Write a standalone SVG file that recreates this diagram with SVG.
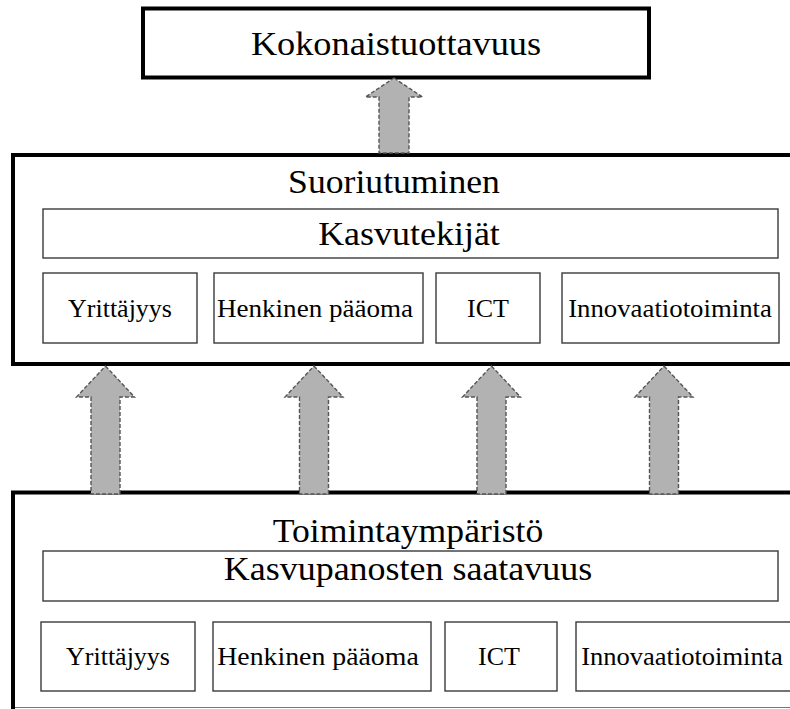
<svg xmlns="http://www.w3.org/2000/svg" width="790" height="709" viewBox="0 0 790 709">
<style>
.big{stroke:#000;stroke-width:4;fill:#fff}
.sub{stroke:#3a3a3a;stroke-width:1.4;fill:#fff}
text{fill:#000;text-anchor:middle}
.h{font-size:33px}
.s{font-size:26px}
.arr{fill:#b2b2b2;stroke:#555;stroke-width:1.4;stroke-dasharray:4 2}
</style>
<defs>
<path id="up" d="M0,0 L29,31 L14.5,31 L14.5,128 L-14.5,128 L-14.5,31 L-29,31 Z"/>
</defs>
<rect width="790" height="709" fill="#fff"/>
<g id="nodes" font-family="Liberation Serif, Times New Roman, serif">
<g id="kokonaistuottavuus">
<rect class="big" x="143" y="8.5" width="506" height="69" stroke-width="3.5"/>
<text class="h" transform="translate(396,55) scale(1.1,1)">Kokonaistuottavuus</text>
</g>
<g id="suoriutuminen">
<rect class="big" x="13" y="155" width="800" height="209"/>
<text class="h" transform="translate(394,193) scale(1.08,1)">Suoriutuminen</text>
</g>
<g id="kasvutekijat">
<rect class="sub" x="43" y="209" width="735" height="49"/>
<text class="h" transform="translate(409,245) scale(1.09,1)">Kasvutekijät</text>
</g>
<g id="s-yrittajyys">
<rect class="sub" x="43" y="273" width="154" height="70"/>
<text class="s" x="120" y="317">Yrittäjyys</text>
</g>
<g id="s-henkinen">
<rect class="sub" x="214" y="273" width="209" height="70"/>
<text class="s" transform="translate(315,317) scale(1.04,1)">Henkinen pääoma</text>
</g>
<g id="s-ict">
<rect class="sub" x="436" y="273" width="104" height="70"/>
<text class="s" x="488" y="317">ICT</text>
</g>
<g id="s-innovaatio">
<rect class="sub" x="562" y="273" width="217" height="70"/>
<text class="s" transform="translate(670,317) scale(1.03,1)">Innovaatiotoiminta</text>
</g>
<g id="toimintaymparisto">
<rect x="13" y="492.5" width="800" height="214.5" fill="#fff"/>
<path d="M13,709 L13,492.5 L790,492.5" fill="none" stroke="#000" stroke-width="4"/>
<path d="M15,707.5 L790,707.5" fill="none" stroke="#777" stroke-width="1.2"/>
<text class="h" transform="translate(408,542) scale(1.08,1)">Toimintaympäristö</text>
</g>
<g id="kasvupanosten">
<rect class="sub" x="43" y="551" width="735" height="50"/>
<text class="h" transform="translate(408,580) scale(1.09,1)">Kasvupanosten saatavuus</text>
</g>
<g id="p-yrittajyys">
<rect class="sub" x="41" y="622" width="154" height="69"/>
<text class="s" x="118" y="665">Yrittäjyys</text>
</g>
<g id="p-henkinen">
<rect class="sub" x="213" y="622" width="218" height="69"/>
<text class="s" transform="translate(318,665) scale(1.07,1)">Henkinen pääoma</text>
</g>
<g id="p-ict">
<rect class="sub" x="445" y="622" width="112" height="69"/>
<text class="s" x="499" y="665">ICT</text>
</g>
<g id="p-innovaatio">
<rect class="sub" x="576" y="622" width="230" height="69"/>
<text class="s" transform="translate(682,665) scale(1.02,1)">Innovaatiotoiminta</text>
</g>
</g>
<g id="connectors">
<path class="arr" d="M394,78 L422.5,97 L409,97 L409,153 L379,153 L379,97 L365.5,97 Z"/>
<use href="#up" class="arr" x="105.5" y="366"/>
<use href="#up" class="arr" x="314" y="366"/>
<use href="#up" class="arr" x="491.5" y="366"/>
<use href="#up" class="arr" x="664" y="366"/>
</g>
</svg>
